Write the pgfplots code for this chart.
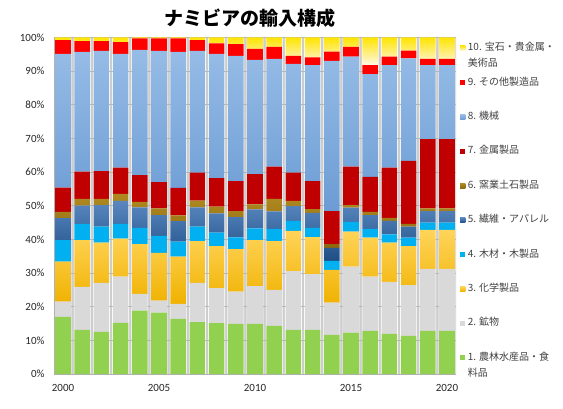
\documentclass[border=0pt]{standalone}
\usepackage{fontspec}
\setmainfont{Carlito}
\newfontfamily\cjk{Noto Sans CJK JP}
\usepackage{pgfplots}
\pgfplotsset{compat=1.18}
\usepackage{pgfplotstable}

\definecolor{cA}{RGB}{146,208,80}
\definecolor{cB}{RGB}{217,217,217}
\definecolor{cCt}{RGB}{255,212,90}
\definecolor{cCb}{RGB}{240,178,0}
\definecolor{cD}{RGB}{0,176,240}
\definecolor{cEt}{RGB}{90,135,192}
\definecolor{cEb}{RGB}{31,78,133}
\definecolor{cFt}{RGB}{176,138,32}
\definecolor{cFb}{RGB}{140,104,14}
\definecolor{cG}{RGB}{192,0,0}
\definecolor{cHt}{RGB}{150,188,230}
\definecolor{cHb}{RGB}{108,156,212}
\definecolor{cI}{RGB}{255,0,0}
\definecolor{cJt}{RGB}{255,228,0}
\definecolor{cJm}{RGB}{255,196,0}
\definecolor{cJb}{RGB}{255,248,230}
\definecolor{gapgray}{RGB}{205,205,205}

\pgfplotstableread{
year a b c d e f g h i j full
2000 17.0 4.5 11.9 6.4 6.5 1.9 7.2 39.7 4.1 0.8 100
2001 13.1 12.8 13.9 4.8 5.4 2.0 8.1 35.6 3.2 1.1 100
2002 12.5 14.6 11.9 4.8 6.4 1.8 8.3 35.7 2.9 1.1 100
2003 15.2 13.7 11.3 4.4 6.8 2.1 7.8 33.8 3.5 1.4 100
2004 18.8 5.0 14.8 4.8 6.1 1.6 8.0 37.2 3.4 0.3 100
2005 18.2 3.6 14.2 5.0 6.2 2.0 7.8 39.0 3.7 0.3 100
2006 16.4 4.4 14.1 4.4 6.1 1.7 8.2 40.4 4.0 0.3 100
2007 15.4 11.7 12.4 4.3 5.7 2.0 8.3 36.2 3.2 0.8 100
2008 15.1 10.4 12.5 4.0 5.7 2.0 8.5 36.9 3.1 1.8 100
2009 14.9 9.6 12.6 3.5 6.0 1.8 8.9 37.2 3.5 2.0 100
2010 14.9 11.2 13.7 3.5 5.6 1.5 9.0 33.9 3.3 3.4 100
2011 14.3 10.7 14.5 3.6 5.2 3.7 9.6 32.0 3.6 2.8 100
2012 13.1 17.5 11.9 3.0 4.4 1.5 8.4 32.3 2.4 5.5 100
2013 13.1 16.6 11.0 2.7 4.5 1.1 8.3 34.5 2.3 5.9 100
2014 11.6 9.6 9.7 2.7 3.9 1.1 9.8 44.6 2.8 4.2 100
2015 12.3 19.6 10.4 2.9 4.2 0.8 11.4 32.7 2.9 2.8 100
2016 12.8 16.1 11.6 2.6 4.1 1.0 10.4 30.5 2.7 8.2 100
2017 11.9 15.5 11.6 2.5 4.0 0.9 14.9 30.5 2.5 5.7 100
2018 11.3 15.1 11.6 2.5 3.3 0.8 18.7 30.5 2.3 3.9 100
2019 12.8 18.4 11.6 2.2 3.4 0.8 20.6 22.0 1.8 6.4 100
2020 12.8 18.4 11.6 2.2 3.4 0.8 20.6 22.0 1.8 6.4 100
}\imports

\pgfplotsset{
  myax/.style={
    at={(54pt,34pt)}, anchor=south west,
    width=402pt, height=336.6pt, scale only axis,
    xmin=1999.53, xmax=2020.47, ymin=0, ymax=100,
  },
}

\begin{document}
\begin{tikzpicture}
\useasboundingbox (0,0) rectangle (563pt,408pt);

% gray strips between bars
\begin{axis}[myax, hide axis, ybar, bar width=1.0]
  \addplot[fill=gapgray, draw=none] table[x=year, y=full] {\imports};
\end{axis}
\begin{axis}[myax, hide axis, ybar, bar width=0.875]
  \addplot[fill=white, draw=none] table[x=year, y=full] {\imports};
\end{axis}

\begin{axis}[myax,
  ybar stacked, bar width=0.81,
  axis lines=left,
  axis line style={draw=black!30, line width=0.6pt, -},
  major tick length=0pt,
  ymajorgrids, grid style={draw=black!28, line width=0.6pt},
  ytick={0,10,20,30,40,50,60,70,80,90,100},
  yticklabels={0\%,10\%,20\%,30\%,40\%,50\%,60\%,70\%,80\%,90\%,100\%},
  xtick={2000,2005,2010,2015,2020},
  xticklabels={2000,2005,2010,2015,2020},
  ticklabel style={font=\fontsize{11}{13}\selectfont, text=black!85},
  yticklabel style={xshift=-6pt},
  xticklabel style={yshift=-7pt},
  reverse legend,
  legend cell align=left,
  legend image code/.code={\fill[#1] (0pt,-2.6pt) rectangle (5.2pt,2.6pt);},
  legend style={draw=none, fill=none, inner sep=0pt,
    at={(axis description cs:1.01,0.982)}, anchor=north west,
    font=\cjk\fontsize{10}{16}\selectfont, text=black!75,
    row sep=25.4pt, column sep=2.5pt,
    nodes={inner sep=0pt, text height=7pt, text depth=2pt}},
]
  \addplot[draw=none, fill=cA] table[x=year, y=a] {\imports};
  \addlegendentry{\smash{\parbox[t]{3.5cm}{1. 農林水産品・食\\料品}}}
  \addplot[draw=none, fill=cB] table[x=year, y=b] {\imports};
  \addlegendentry{2. 鉱物}
  \addplot[draw=none, top color=cCt, bottom color=cCb] table[x=year, y=c] {\imports};
  \addlegendentry{3. 化学製品}
  \addplot[draw=none, fill=cD] table[x=year, y=d] {\imports};
  \addlegendentry{4. 木材・木製品}
  \addplot[draw=none, top color=cEt, bottom color=cEb] table[x=year, y=e] {\imports};
  \addlegendentry{5. 繊維・アパレル}
  \addplot[draw=none, top color=cFt, bottom color=cFb] table[x=year, y=f] {\imports};
  \addlegendentry{6. 窯業土石製品}
  \addplot[draw=none, fill=cG] table[x=year, y=g] {\imports};
  \addlegendentry{7. 金属製品}
  \addplot[draw=none, top color=cHt, bottom color=cHb] table[x=year, y=h] {\imports};
  \addlegendentry{8. 機械}
  \addplot[draw=none, fill=cI] table[x=year, y=i] {\imports};
  \addlegendentry{9. その他製造品}
  \addplot[draw=none, top color=cJt, middle color=cJm, bottom color=cJb] table[x=year, y=j] {\imports};
  \addlegendentry{\smash{\parbox[t]{3.5cm}{10. 宝石・貴金属・\\美術品}}}
\end{axis}

\node[font=\cjk\bfseries\fontsize{19}{22}\selectfont, text=black] at (250pt,390pt) {ナミビアの輸入構成};
\end{tikzpicture}
\end{document}
